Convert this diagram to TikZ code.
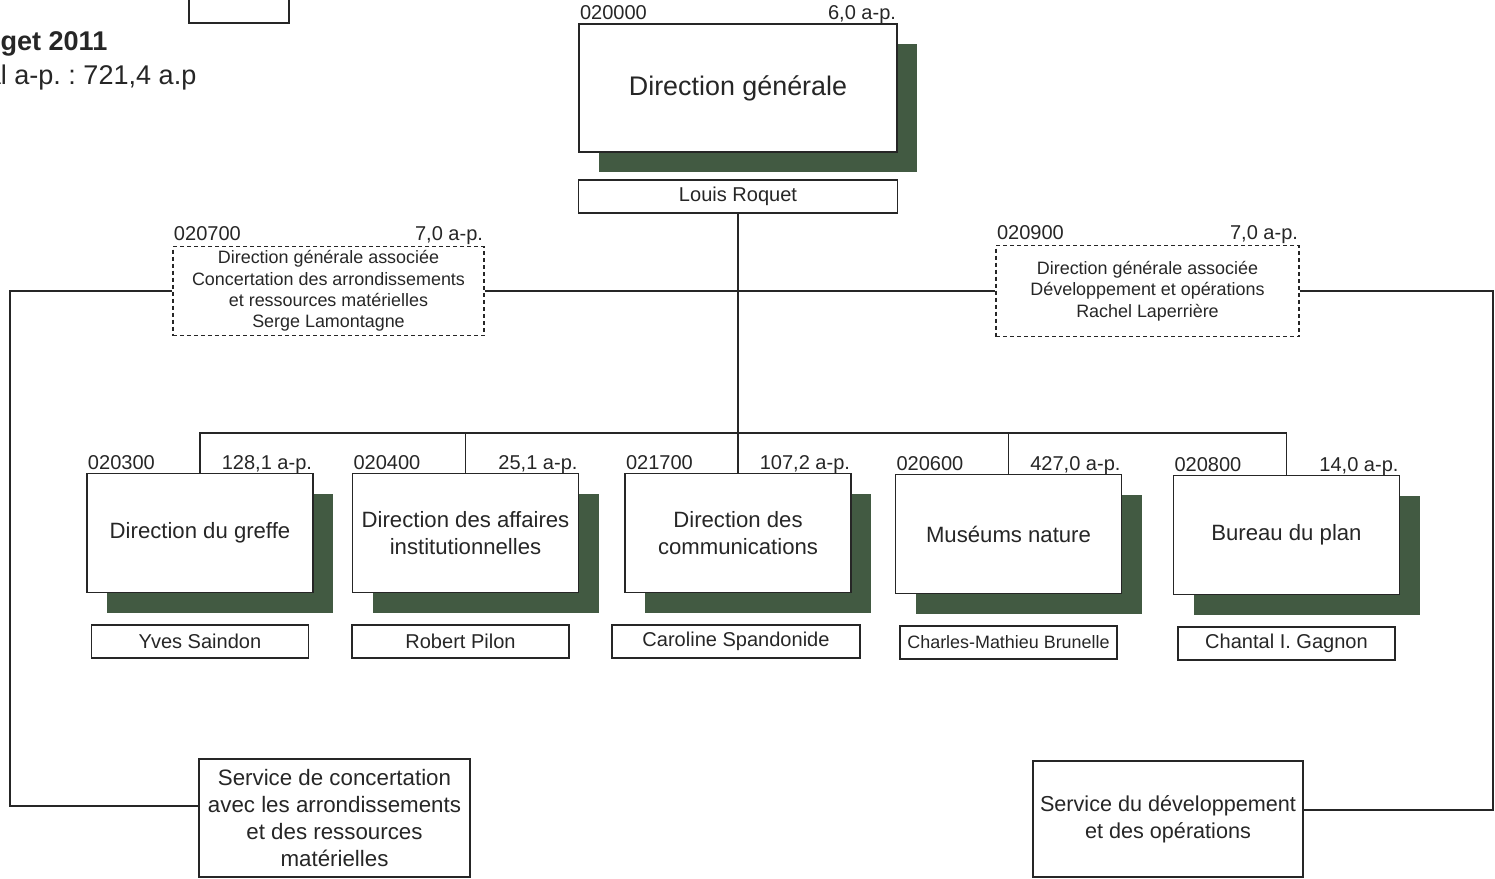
\documentclass[tikz,border=0pt]{standalone}
\usepackage{fontspec}
\setmainfont{Liberation Sans}
\usepackage{tikz}
\usetikzlibrary{positioning,shadows}
\frenchspacing

\definecolor{ombre}{RGB}{66,90,66}

\begin{document}
\begin{tikzpicture}[
		x = 0.2mm, y = -0.2mm,
		node distance = 21.7mm,
		on grid,
		line width = 0.7pt,
		draw = black!85,
		every node/.style = {text=black!85},
		dirbox/.style = {draw, fill=white, align=center, inner sep=1pt,
			minimum width=45.2mm, minimum height=23.8mm,
			font=\fontsize{12.6}{15.4}\selectfont,
			general shadow={shadow xshift=4mm, shadow yshift=-4mm, fill=ombre}},
		chefbox/.style = {draw, fill=white, inner sep=1pt,
			minimum width=43.4mm, minimum height=6.6mm,
			font=\fontsize{11.4}{13}\selectfont},
		adjbox/.style = {draw, dash pattern=on 0.8mm off 0.6mm, align=center,
			inner sep=1pt, font=\fontsize{10.2}{12.2}\selectfont},
		servbox/.style = {draw, fill=white, align=center, inner sep=1pt,
			minimum width=54.2mm, minimum height=23.6mm,
			font=\fontsize{12.7}{15.4}\selectfont},
		codeL/.style = {anchor=base west, inner xsep=0.2mm, inner ysep=0pt,
			yshift=0.6mm, font=\fontsize{11.4}{13}\selectfont},
		codeR/.style = {anchor=base east, inner xsep=0.2mm, inner ysep=0pt,
			yshift=0.6mm, font=\fontsize{11.4}{13}\selectfont}
		]
		\useasboundingbox (0,0) rectangle (1495,878);

		% en-tete
		\node[draw, minimum width=20mm, minimum height=9.2mm] (cadre) at (239,0) {};
		\node[anchor=base east, inner sep=0pt, font=\bfseries\fontsize{15.4}{18}\selectfont] (budget) at (108,50) {Budget 2011};
		\node[anchor=base east, inner sep=0pt, font=\fontsize{15.4}{18}\selectfont] (total) at (197,84) {Total a-p. : 721,4 a.p};

		% direction generale
		\node[dirbox, minimum width=63.6mm, minimum height=25.6mm,
			font=\fontsize{15.3}{18}\selectfont,
			label={[codeL,yshift=0.2mm]north west:020000},
			label={[codeR,yshift=0.2mm]north east:{6,0 a-p.}}] (dg) at (738,88) {Direction générale};
		\node[chefbox, minimum width=63.8mm] (roquet) [below=of dg] {Louis Roquet};

		% directions associees
		\node[adjbox, minimum width=62.2mm, minimum height=17.8mm,
			label={[codeL,yshift=0.4mm]north west:020700},
			label={[codeR,yshift=0.4mm]north east:{7,0 a-p.}}] (gauche) at (328.5,291)
			{Direction générale associée\\Concertation des arrondissements\\et ressources matérielles\\Serge Lamontagne};
		\node[adjbox, minimum width=60.6mm, minimum height=18.2mm,
			label={[codeL,yshift=0.4mm]north west:020900},
			label={[codeR,yshift=0.4mm]north east:{7,0 a-p.}}] (droite) at (1147.5,291)
			{Direction générale associée\\Développement et opérations\\Rachel Laperrière};

		% directions
		\node[dirbox, label={[codeL]north west:020300}, label={[codeR]north east:{128,1 a-p.}}] (greffe) at (200,533) {Direction du greffe};
		\node[dirbox, label={[codeL]north west:020400}, label={[codeR]north east:{25,1 a-p.}}] (affaires) at (465.5,533) {Direction des affaires\\institutionnelles};
		\node[dirbox, label={[codeL]north west:021700}, label={[codeR]north east:{107,2 a-p.}}] (comm) at (738,533) {Direction des\\communications};
		\node[dirbox, label={[codeL]north west:020600}, label={[codeR]north east:{427,0 a-p.}}] (musee) at (1008.5,534) {Muséums nature};
		\node[dirbox, label={[codeL]north west:020800}, label={[codeR]north east:{14,0 a-p.}}] (plan) at (1286.5,535) {Bureau du plan};

		\node[chefbox] (saindon) [below=of greffe] {Yves Saindon};
		\node[chefbox] (pilon) [below=of affaires, xshift=-1mm] {Robert Pilon};
		\node[chefbox, minimum width=49.6mm] (spandonide) [below=of comm, xshift=-0.4mm] {Caroline Spandonide};
		\node[chefbox, font=\fontsize{10.2}{12}\selectfont] (brunelle) [below=of musee] {Charles-Mathieu Brunelle};
		\node[chefbox] (gagnon) [below=of plan] {Chantal I. Gagnon};

		% services
		\node[servbox] (servconc) at (334.5,818) {Service de concertation\\avec les arrondissements\\et des ressources\\matérielles};
		\node[servbox, minimum width=54mm, minimum height=23.2mm, inner xsep=0pt,
			font=\fontsize{12.3}{15.4}\selectfont] (servdev) at (1168,819) {Service du développement\\et des opérations};

		% liens
		\coordinate (bus) at (738,433);
		\coordinate (coinG) at (10,291);
		\coordinate (coinD) at (1493,291);
		\draw (roquet) -- (comm);
		\draw (gauche) -- (droite);
		\draw (greffe.north) |- (bus) -| (plan.north);
		\draw (affaires.north) -- (affaires.north |- bus);
		\draw (musee.north) -- (musee.north |- bus);
		\draw (gauche.west) -- (coinG) |- ([yshift=2.4mm]servconc.west);
		\draw (droite.east) -- (coinD) |- ([yshift=1.8mm]servdev.east);
\end{tikzpicture}
\end{document}
